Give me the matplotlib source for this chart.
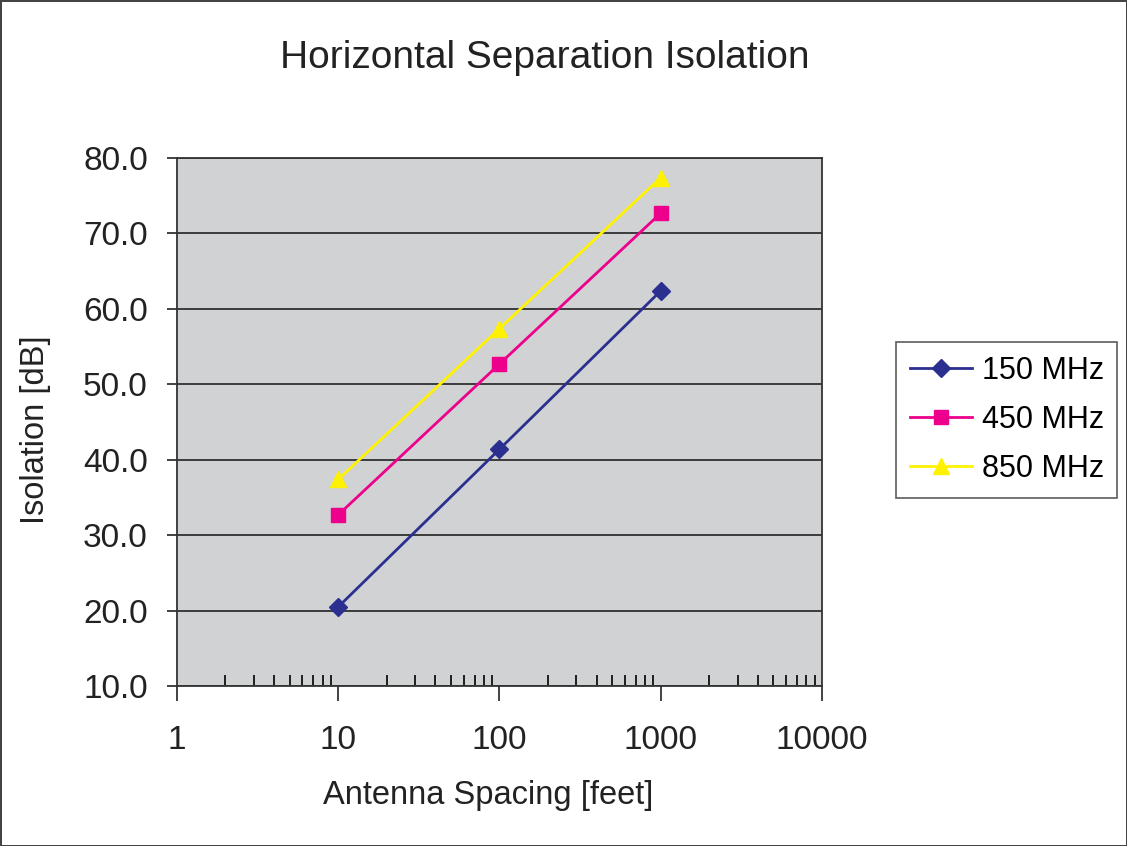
import matplotlib.pyplot as plt
from matplotlib.ticker import FixedLocator, LogLocator, NullFormatter

plt.rcParams['font.family'] = ['Liberation Sans', 'DejaVu Sans']

# data
spacing = [10, 100, 1000]
iso_150 = [20.5, 41.4, 62.4]
iso_450 = [32.7, 52.7, 72.7]
iso_850 = [37.4, 57.4, 77.4]
labels = ['150 MHz', '450 MHz', '850 MHz']
yticks = [10, 20, 30, 40, 50, 60, 70, 80]
xticks = [1, 10, 100, 1000, 10000]

fig = plt.figure(figsize=(11.27, 8.46), dpi=100)
fig.patch.set_edgecolor('#444444')
fig.patch.set_linewidth(2)
ax = fig.add_axes([0.157, 0.189, 0.5724, 0.6242])
ax.set_facecolor('#D1D2D4')

ax.plot(spacing, iso_150, color='#2B2F8F', lw=2, marker='D', ms=9, label=labels[0])
ax.plot(spacing, iso_450, color='#EC008C', lw=2, marker='s', ms=10, label=labels[1])
ax.plot(spacing, iso_850, color='#FFF200', lw=2, marker='^', ms=11, label=labels[2])

ax.set_xscale('log')
ax.set_xlim(1, 10000)
ax.set_ylim(10, 80)
ax.set_yticks(yticks)
ax.set_yticklabels(['%.1f' % v for v in yticks])
ax.xaxis.set_major_locator(FixedLocator(xticks))
ax.set_xticklabels([str(v) for v in xticks])
ax.xaxis.set_minor_locator(LogLocator(base=10, subs=range(2, 10)))
ax.xaxis.set_minor_formatter(NullFormatter())

ax.grid(axis='y', color='#222222', lw=1.2)
ax.set_axisbelow(True)
for s in ax.spines.values():
    s.set_color('#333333')
    s.set_linewidth(1.3)

ax.tick_params(axis='x', which='major', direction='out', length=11, width=1.2, pad=17,
               labelsize=24, colors='#222222')
ax.tick_params(axis='x', which='minor', direction='in', length=8, width=1.2)
ax.tick_params(axis='y', which='major', direction='out', length=7, width=1.2, pad=14,
               labelsize=24, colors='#222222')

ax.set_xlabel('Antenna Spacing [feet]', fontsize=23.5, color='#222222')
ax.set_ylabel('Isolation [dB]', fontsize=23.5, color='#222222')
ax.xaxis.set_label_coords(0.482, -0.208)
ax.yaxis.set_label_coords(-0.22, 0.485)
ax.xaxis.label.set_va('center')
ax.yaxis.label.set_va('center')
fig.text(0.4836, 0.931, 'Horizontal Separation Isolation', fontsize=28,
         ha='center', va='center', color='#222222')

leg = ax.legend(loc='center left', bbox_to_anchor=(0.795, 0.5035),
                bbox_transform=fig.transFigure, fontsize=22, frameon=True,
                fancybox=False, edgecolor='#333333', handlelength=2.05,
                labelspacing=0.62, borderpad=0.45, handletextpad=0.3,
                borderaxespad=0)
leg.get_frame().set_linewidth(1.2)

fig.savefig('out.png', dpi=100)
